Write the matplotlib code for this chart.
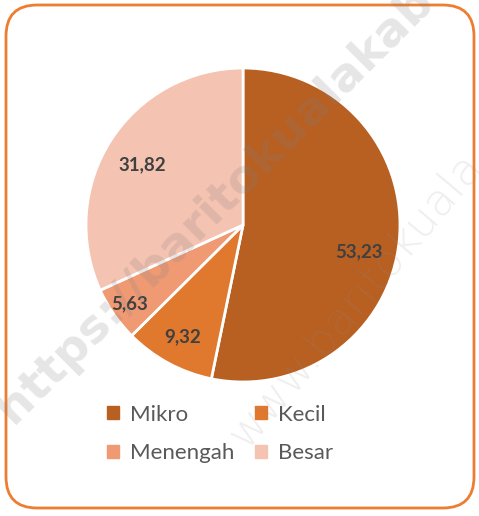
import numpy as np
import matplotlib.pyplot as plt
from matplotlib.patches import FancyBboxPatch, Patch

# data
kategori = ['Mikro', 'Kecil', 'Menengah', 'Besar']
nilai = [53.23, 9.32, 5.63, 31.82]
warna = ['#B85F22', '#E0782E', '#F09A74', '#F5C3B1']
label_txt = ['53,23', '9,32', '5,63', '31,82']

W, H = 479, 516
fig = plt.figure(figsize=(W / 100, H / 100), dpi=100)

# rounded orange frame
frame = FancyBboxPatch((6 / W, 8 / H), 468 / W, 503 / H,
                       boxstyle='round,pad=0,rounding_size=0.065',
                       transform=fig.transFigure, fc='white', ec='#ED7D31',
                       lw=2, mutation_aspect=W / H, zorder=-5)
fig.patches.append(frame)

cx, cy, r = 243, 225, 157
ax = fig.add_axes([(cx - r) / W, (H - cy - r) / H, 2 * r / W, 2 * r / H])
ax.set_zorder(2)
wedges, _ = ax.pie(nilai, colors=warna, startangle=90, counterclock=False,
                   wedgeprops=dict(edgecolor='white', linewidth=2))
ax.set_xlim(-1, 1)
ax.set_ylim(-1, 1)
ax.set_aspect('equal')
ax.axis('off')

# data labels
jarak = [0.76, 0.81, 0.88, 0.75]
geser = [-7, 0, 0, 2]
for w, t, d, g in zip(wedges, label_txt, jarak, geser):
    a = np.deg2rad((w.theta1 + w.theta2) / 2 + g)
    ax.text(d * np.cos(a), d * np.sin(a), t, ha='center', va='center',
            fontsize=13.5, fontweight='bold', color='#404040', family='Lato')

# legend (row-wise order like the reference)
urutan = [0, 2, 1, 3]
handles = [Patch(color=warna[i], label=kategori[i]) for i in urutan]
leg = fig.legend(handles=handles, ncol=2, loc='center', bbox_to_anchor=(220 / W, 1 - 434 / H),
                 frameon=False, handlelength=0.55, handleheight=0.55, handletextpad=0.5,
                 columnspacing=0.9, labelspacing=0.85, prop=dict(family='Lato', size=16),
                 labelcolor='#595959')
leg.set_zorder(3)

# watermark
fig.text(215 / W, 1 - 205 / H, 'https://baritokualakab', rotation=45, fontsize=34,
         fontweight='bold', color='#808080', alpha=0.2, ha='center', va='center',
         family='DejaVu Sans', zorder=5)
fig.text(355 / W, 1 - 300 / H, 'www.baritokuala', rotation=50, fontsize=32,
         color='#909090', alpha=0.15, ha='center', va='center', family='DejaVu Sans',
         fontweight='light', zorder=5)

fig.savefig('out.png', dpi=100)
